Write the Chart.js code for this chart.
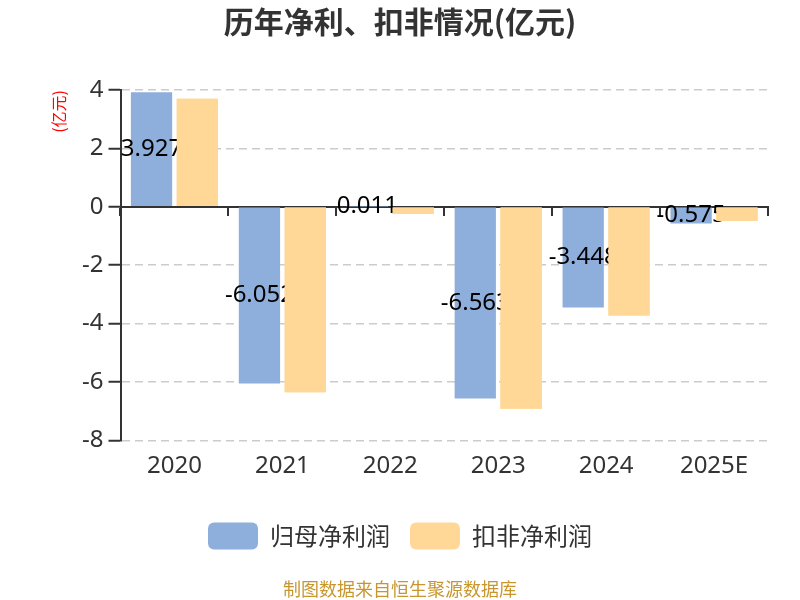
<!DOCTYPE html>
<html>
<head>
<meta charset="utf-8">
<script src="https://cdn.jsdelivr.net/npm/chart.js@4/dist/chart.umd.min.js"></script>
<style>
html,body{margin:0;padding:0;background:#fff;}
#wrap{width:800px;height:600px;}
</style>
</head>
<body>
<div id="wrap"><canvas id="c" width="800" height="600"></canvas></div>
<script>
const years = ['2020', '2021', '2022', '2023', '2024', '2025E'];
const parentProfit = [3.927, -6.052, 0.011, -6.563, -3.448, -0.575];
const deductedProfit = [3.70, -6.35, -0.25, -6.92, -3.72, -0.49];
const seriesNames = ['归母净利润', '扣非净利润'];
const parentLabels = ['3.927', '-6.052', '0.011', '-6.563', '-3.448', '-0.575'];

const FONT = '"Noto Sans", "Noto Sans CJK SC", sans-serif';
const CJK = '"Noto Sans CJK SC", "Noto Sans", sans-serif';

const labelPlugin = {
  id: 'barLabels',
  afterDatasetsDraw(chart) {
    const ctx = chart.ctx;
    const meta0 = chart.getDatasetMeta(0);
    ctx.save();
    ctx.font = '24px ' + FONT;
    ctx.fillStyle = '#000';
    ctx.textAlign = 'center';
    ctx.textBaseline = 'middle';
    meta0.data.forEach((el, i) => {
      const p = el.getProps(['x', 'y', 'base'], true);
      ctx.fillText(parentLabels[i], p.x, (p.y + p.base) / 2);
    });
    ctx.restore();
    // right-hand series sits above the labels, as in the reference
    const meta1 = chart.getDatasetMeta(1);
    ctx.save();
    meta1.controller.draw();
    ctx.restore();
  }
};

new Chart(document.getElementById('c'), {
  type: 'bar',
  data: {
    labels: years,
    datasets: [
      { label: seriesNames[0], data: parentProfit, backgroundColor: '#8eaedb', barPercentage: 0.9, categoryPercentage: 0.85 },
      { label: seriesNames[1], data: deductedProfit, backgroundColor: '#ffd898', barPercentage: 0.9, categoryPercentage: 0.85 }
    ]
  },
  options: {
    responsive: false,
    animation: false,
    layout: { padding: { left: 32, right: 32, top: 0, bottom: 0 } },
    plugins: {
      title: {
        display: true,
        text: '历年净利、扣非情况(亿元)',
        color: '#333',
        font: { family: CJK, size: 30, weight: 'bold' },
        padding: { top: 4, bottom: 50 }
      },
      subtitle: {
        display: true,
        position: 'bottom',
        text: '制图数据来自恒生聚源数据库',
        color: '#c8962e',
        font: { family: CJK, size: 18 },
        padding: { top: 19, bottom: 0 }
      },
      legend: {
        position: 'bottom',
        labels: {
          color: '#333',
          font: { family: CJK, size: 24 },
          boxWidth: 50,
          boxHeight: 27,
          useBorderRadius: true,
          borderRadius: 6,
          padding: 20
        }
      },
      tooltip: { enabled: false }
    },
    scales: {
      x: {
        position: 'bottom',
        grid: { display: false, drawTicks: false },
        border: { display: false },
        ticks: { color: '#333', font: { family: FONT, size: 24 }, padding: 11 },
        title: { display: true, text: ' ', font: { size: 1 }, padding: { top: 10, bottom: 0 } }
      },
      x0: {
        type: 'category',
        position: { y: 0 },
        offset: true,
        z: 1,
        grid: { display: true, drawOnChartArea: false, drawTicks: true, tickLength: 8, offset: true, color: '#333', lineWidth: 2 },
        border: { display: true, color: '#333', width: 2 },
        ticks: { display: false }
      },
      y: {
        min: -8,
        max: 4,
        afterFit(scale) { scale.width = 88.5; },
        ticks: { stepSize: 2, color: '#333', font: { family: FONT, size: 24 }, padding: 5 },
        grid: { color: '#cccccc', lineWidth: 1.5, tickColor: '#333', tickLength: 12, tickBorderDash: [], tickWidth: 2 },
        border: { display: true, color: '#333', width: 2, dash: [8, 5] },
        title: {
          display: true,
          text: '(亿元)',
          color: '#ff0000',
          align: 'end',
          font: { family: CJK, size: 16 },
          padding: { top: 17, bottom: 0 }
        }
      }
    }
  },
  plugins: [labelPlugin]
});
</script>
</body>
</html>
